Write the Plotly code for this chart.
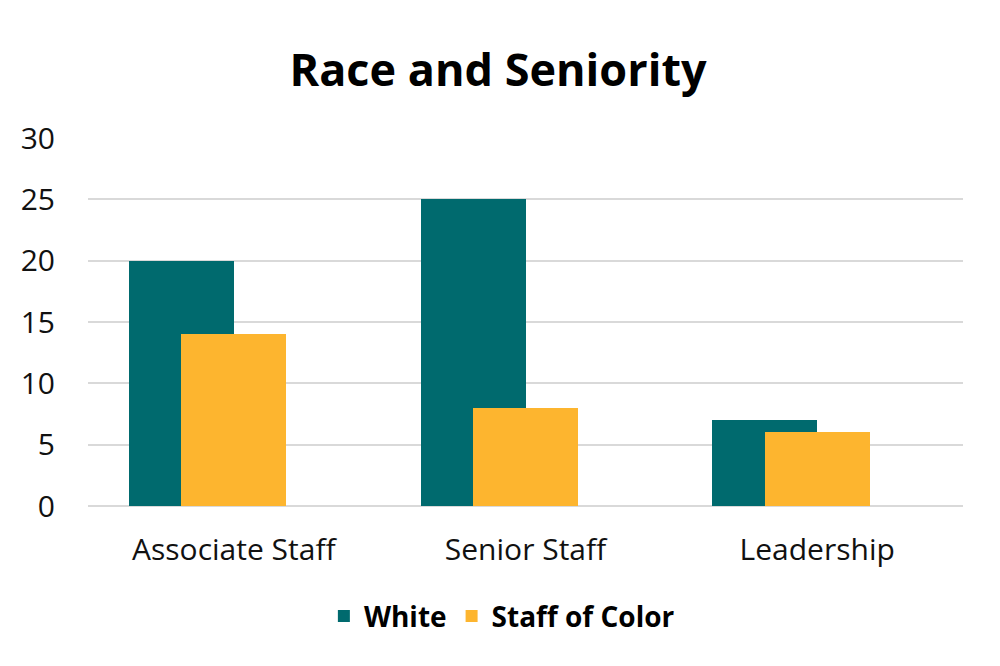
import plotly.graph_objects as go

categories = ["Associate Staff", "Senior Staff", "Leadership"]
white = [20, 25, 7]
staff_of_color = [14, 8, 6]

teal = "#006A6E"
gold = "#FDB52F"

fig = go.Figure()

# bars overlap by half their width and sit left of the category centre
fig.add_trace(go.Bar(
    x=categories, y=white, name="White",
    marker=dict(color=teal, line=dict(width=0)),
    offset=-0.36, width=0.36,
))
fig.add_trace(go.Bar(
    x=categories, y=staff_of_color, name="Staff of Color",
    marker=dict(color=gold, line=dict(width=0)),
    offset=-0.18, width=0.36,
))

# note: page body adds an 8px offset, margins are compensated for it
fig.update_layout(
    width=1000, height=666,
    barmode="overlay",
    plot_bgcolor="white", paper_bgcolor="white",
    font=dict(family="Open Sans", size=30, color="#111111"),
    title=dict(
        text="<b>Race and Seniority</b>",
        x=0.49, xanchor="center", y=0.907, yanchor="middle",
        font=dict(size=45, color="#000000"),
        automargin=False,
    ),
    margin=dict(l=80, r=45, t=130, b=168, autoexpand=False),
    showlegend=True,
    legend=dict(
        orientation="h", x=0.473, xanchor="center", y=-0.30, yanchor="middle",
        font=dict(size=28, color="#000000", weight="bold"),
        itemsizing="constant", traceorder="normal",
    ),
    bargap=0,
)
fig.update_xaxes(
    showgrid=False, showline=False, ticks="", ticklabelstandoff=23,
    tickfont=dict(size=30), automargin=False,
)
fig.update_yaxes(
    range=[0, 30], dtick=5, showgrid=True, gridcolor="#D9D9D9", gridwidth=2,
    zeroline=True, zerolinecolor="#D9D9D9", zerolinewidth=2,
    ticks="", ticklabelstandoff=32, tickfont=dict(size=30), automargin=False,
)

fig.write_html("out.html")
